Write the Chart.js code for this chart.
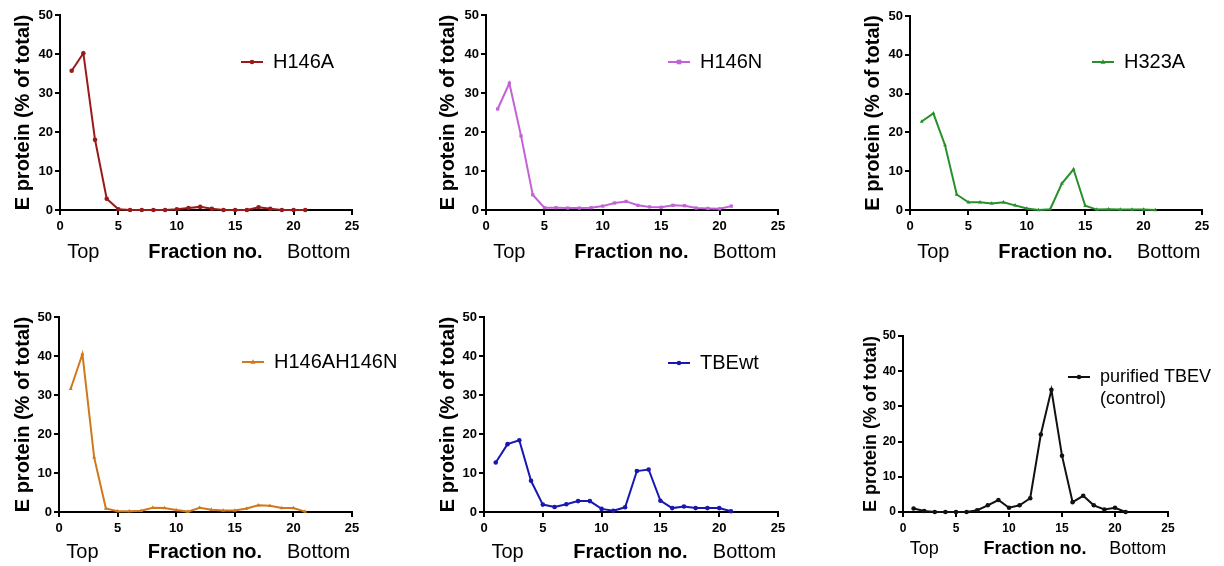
<!DOCTYPE html>
<html>
<head>
<title>E protein per fraction</title>
<style>
  body { margin: 0; background: #fff; width: 1224px; height: 566px; position: relative; overflow: hidden; }
  canvas { position: absolute; }
</style>
</head>
<body>
<canvas id="p1"></canvas>
<canvas id="p2"></canvas>
<canvas id="p3"></canvas>
<canvas id="p4"></canvas>
<canvas id="p5"></canvas>
<canvas id="p6"></canvas>

<script src="https://cdn.jsdelivr.net/npm/chart.js"></script>
<script>
// data
const fractions = [1, 2, 3, 4, 5, 6, 7, 8, 9, 10, 11, 12, 13, 14, 15, 16, 17, 18, 19, 20, 21];
const h146a = [35.7, 40.2, 18.0, 2.9, 0.2, 0, 0, 0, 0, 0.2, 0.5, 0.8, 0.3, 0, 0, 0, 0.7, 0.3, 0, 0, 0];
const h146n = [25.9, 32.5, 19.0, 3.9, 0.6, 0.6, 0.5, 0.5, 0.6, 1.0, 1.8, 2.2, 1.2, 0.8, 0.7, 1.2, 1.1, 0.5, 0.4, 0.3, 1.0];
const h323a = [22.8, 24.9, 16.7, 4.0, 2.0, 2.0, 1.7, 2.0, 1.2, 0.4, 0, 0.2, 6.8, 10.5, 1.1, 0.1, 0.2, 0.1, 0.1, 0.1, 0];
const h146ah146n = [31.6, 40.5, 14.0, 0.9, 0.2, 0.2, 0.3, 1.1, 1.0, 0.5, 0.1, 1.1, 0.6, 0.4, 0.4, 0.9, 1.7, 1.6, 1.0, 1.0, 0.1];
const tbewt = [12.7, 17.4, 18.4, 8.0, 1.9, 1.3, 2.0, 2.8, 2.8, 0.8, 0.3, 1.2, 10.5, 10.9, 2.9, 1.0, 1.4, 1.0, 1.0, 1.0, 0.2];
const purifiedTbev = [1.0, 0.3, 0, 0, 0, 0, 0.5, 1.9, 3.4, 1.2, 1.9, 3.9, 22.0, 34.7, 16.0, 2.8, 4.6, 1.9, 0.7, 1.2, 0];

const seriesNames = ["H146A", "H146N", "H323A", "H146AH146N", "TBEwt", ["purified TBEV", "(control)"]];
const xTicks = [0, 5, 10, 15, 20, 25];
const yTicks = [0, 10, 20, 30, 40, 50];
const yTitle = "E protein (% of total)";
const xLabels = ["Top", "Fraction no.", "Bottom"];
const xLabelAt = [2.0, 12.45, 22.15];

const FONT = "'Liberation Sans', Arial, sans-serif";

// where each panel sits on the page
const panels = [
  { id: "p1", box: [0, 0, 410, 283], area: [60, 15, 352, 210], values: h146a, color: "#9a1a1a", style: "circle", legend: [241, 62], yTitleX: 23, rowY: 252, fs: 20, tick: 13 },
  { id: "p2", box: [410, 0, 410, 283], area: [76, 15, 368, 210], values: h146n, color: "#c262d6", style: "rect", legend: [258, 62], yTitleX: 38, rowY: 252, fs: 20, tick: 13 },
  { id: "p3", box: [820, 0, 404, 283], area: [90, 16, 382, 210], values: h323a, color: "#27902a", style: "triangle", legend: [272, 62], yTitleX: 53, rowY: 252, fs: 20, tick: 13 },
  { id: "p4", box: [0, 283, 410, 283], area: [59, 34, 352, 229], values: h146ah146n, color: "#cf781c", style: "triangle", legend: [242, 79], yTitleX: 23, rowY: 269, fs: 20, tick: 13 },
  { id: "p5", box: [410, 283, 410, 283], area: [74, 34, 368, 229], values: tbewt, color: "#1818b0", style: "circle", legend: [258, 80], yTitleX: 38, rowY: 269, fs: 20, tick: 13 },
  { id: "p6", box: [820, 283, 404, 283], area: [83, 53, 348, 229], values: purifiedTbev, color: "#111111", style: "circle", legend: [248, 94], yTitleX: 51, rowY: 266, fs: 18, tick: 12 }
];

function marker(ctx, style, x, y, r) {
  ctx.beginPath();
  if (style === "rect") {
    ctx.rect(x - r, y - r, 2 * r, 2 * r);
  } else if (style === "triangle") {
    ctx.moveTo(x, y - r * 1.2);
    ctx.lineTo(x + r * 1.1, y + r * 0.8);
    ctx.lineTo(x - r * 1.1, y + r * 0.8);
    ctx.closePath();
  } else {
    ctx.arc(x, y, r, 0, Math.PI * 2);
  }
  ctx.fill();
}

panels.forEach((p, i) => {
  const cv = document.getElementById(p.id);
  const [bx, by, bw, bh] = p.box;
  const [al, at, ar, ab] = p.area;
  cv.width = bw; cv.height = bh;
  cv.style.left = bx + "px"; cv.style.top = by + "px";

  const textPlugin = {
    id: "panelText",
    afterDraw(chart) {
      const ctx = chart.ctx;
      const ca = chart.chartArea;
      const xs = chart.scales.x;
      ctx.save();
      ctx.fillStyle = "#000";
      // y axis title
      ctx.translate(p.yTitleX, (ca.top + ca.bottom) / 2);
      ctx.rotate(-Math.PI / 2);
      ctx.font = "bold " + p.fs + "px " + FONT;
      ctx.textAlign = "center";
      ctx.textBaseline = "middle";
      ctx.fillText(yTitle, 0, 0);
      ctx.restore();

      // Top / Fraction no. / Bottom
      ctx.save();
      ctx.fillStyle = "#000";
      ctx.textAlign = "center";
      ctx.textBaseline = "middle";
      xLabels.forEach((t, k) => {
        ctx.font = (k === 1 ? "bold " : "") + p.fs + "px " + FONT;
        ctx.fillText(t, xs.getPixelForValue(xLabelAt[k]), p.rowY);
      });

      // legend
      const [lx, ly] = p.legend;
      ctx.strokeStyle = p.color;
      ctx.fillStyle = p.color;
      ctx.lineWidth = 2;
      ctx.beginPath();
      ctx.moveTo(lx, ly);
      ctx.lineTo(lx + 22, ly);
      ctx.stroke();
      marker(ctx, p.style, lx + 11, ly, 2.3);
      ctx.fillStyle = "#000";
      ctx.textAlign = "left";
      ctx.font = p.fs + "px " + FONT;
      const name = [].concat(seriesNames[i]);
      name.forEach((t, k) => ctx.fillText(t, lx + 32, ly + k * 22));
      ctx.restore();
    }
  };

  const axisCommon = {
    type: "linear",
    border: { display: true, color: "#000", width: 2 },
    grid: { drawOnChartArea: false, drawTicks: true, tickLength: 5, color: "#000", lineWidth: 2 },
    ticks: { color: "#000", font: { family: FONT, size: p.tick, weight: "bold" }, padding: 2 }
  };

  new Chart(cv, {
    type: "line",
    data: {
      datasets: [{
        data: fractions.map((f, k) => ({ x: f, y: p.values[k] })),
        borderColor: p.color,
        backgroundColor: p.color,
        borderWidth: 2,
        pointStyle: p.style,
        pointRadius: 2.3,
        pointBorderWidth: 0,
        tension: 0,
        clip: 6
      }]
    },
    options: {
      responsive: false,
      devicePixelRatio: 1,
      animation: false,
      layout: { padding: { left: 0, top: at, right: bw - ar, bottom: 0 } },
      plugins: { legend: { display: false }, tooltip: { enabled: false } },
      scales: {
        x: Object.assign({}, axisCommon, {
          min: 0, max: 25,
          ticks: Object.assign({}, axisCommon.ticks, { padding: 4 }),
          afterBuildTicks: s => { s.ticks = xTicks.map(v => ({ value: v })); },
          afterFit: s => { s.height = bh - ab; }
        }),
        y: Object.assign({}, axisCommon, {
          min: 0, max: 50,
          afterBuildTicks: s => { s.ticks = yTicks.map(v => ({ value: v })); },
          afterFit: s => { s.width = al; }
        })
      }
    },
    plugins: [textPlugin]
  });
});
</script>
</body>
</html>
